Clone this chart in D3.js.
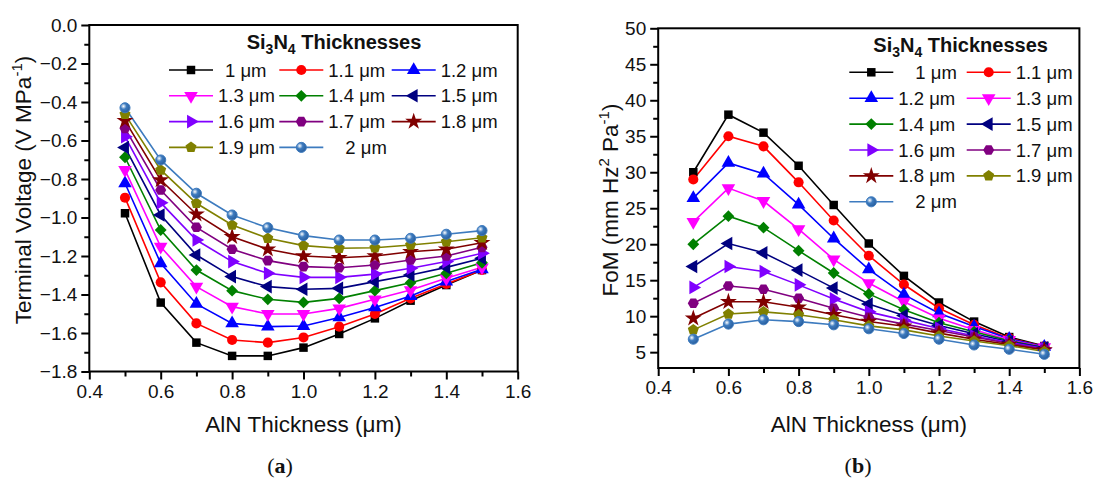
<!DOCTYPE html>
<html>
<head>
<meta charset="utf-8">
<script src="https://cdn.jsdelivr.net/npm/d3@7"></script>
<style>
  body { margin: 0; background: #fff; }
  svg { display: block; font-family: "Liberation Sans", Arial, sans-serif; }
  .tick text { font-size: 19px; fill: #111; }
  .tick line, .domain { stroke: #000; stroke-width: 2px; }
</style>
</head>
<body>
<div id="container"></div>
<script>
// AlN thickness on x, one series per Si3N4 thickness
const aln = [0.5, 0.6, 0.7, 0.8, 0.9, 1.0, 1.1, 1.2, 1.3, 1.4, 1.5];
const thickLabels = ["1 μm", "1.1 μm", "1.2 μm", "1.3 μm", "1.4 μm", "1.5 μm",
  "1.6 μm", "1.7 μm", "1.8 μm", "1.9 μm", "2 μm"];
const colors = ["#000000", "#ff0000", "#0000ff", "#ff00ff", "#008000", "#000080",
  "#8000ff", "#800080", "#800000", "#808000", "#3d7bbf"];

// (a) terminal voltage, V/MPa
const voltage = [
  [-0.978, -1.442, -1.650, -1.719, -1.719, -1.676, -1.605, -1.524, -1.432, -1.351, -1.273],
  [-0.897, -1.337, -1.550, -1.636, -1.650, -1.623, -1.567, -1.501, -1.420, -1.345, -1.273],
  [-0.822, -1.238, -1.449, -1.550, -1.567, -1.564, -1.519, -1.467, -1.408, -1.333, -1.269],
  [-0.753, -1.152, -1.359, -1.463, -1.501, -1.501, -1.472, -1.425, -1.377, -1.316, -1.259],
  [-0.687, -1.065, -1.273, -1.380, -1.425, -1.441, -1.420, -1.380, -1.339, -1.290, -1.235],
  [-0.636, -0.987, -1.195, -1.307, -1.359, -1.373, -1.368, -1.333, -1.299, -1.259, -1.212],
  [-0.580, -0.923, -1.117, -1.229, -1.290, -1.311, -1.311, -1.294, -1.264, -1.229, -1.186],
  [-0.537, -0.857, -1.051, -1.165, -1.224, -1.255, -1.261, -1.247, -1.221, -1.200, -1.155],
  [-0.497, -0.805, -0.983, -1.100, -1.165, -1.200, -1.209, -1.200, -1.178, -1.165, -1.131],
  [-0.464, -0.753, -0.926, -1.039, -1.108, -1.146, -1.160, -1.157, -1.143, -1.126, -1.105],
  [-0.430, -0.701, -0.874, -0.987, -1.053, -1.094, -1.117, -1.117, -1.108, -1.087, -1.068]
];

// (b) figure of merit
const fom = [
  [30.0, 38.0, 35.5, 30.9, 25.45, 20.1, 15.6, 11.9, 9.25, 7.1, 5.85],
  [29.0, 35.0, 33.6, 28.6, 23.3, 18.4, 14.4, 11.1, 8.8, 6.95, 5.8],
  [26.4, 31.3, 29.8, 25.5, 20.8, 16.5, 13.0, 10.4, 8.55, 6.85, 5.75],
  [23.1, 27.8, 26.0, 22.1, 17.9, 14.6, 12.0, 9.7, 8.1, 6.7, 5.7],
  [20.0, 23.9, 22.3, 19.1, 16.0, 13.1, 10.9, 9.1, 7.85, 6.6, 5.65],
  [16.9, 20.1, 18.8, 16.4, 13.9, 11.7, 10.1, 8.7, 7.55, 6.45, 5.6],
  [14.0, 16.9, 16.2, 14.35, 12.4, 10.6, 9.45, 8.3, 7.25, 6.35, 5.5],
  [11.8, 14.2, 13.75, 12.5, 11.1, 9.85, 8.9, 8.0, 7.1, 6.2, 5.4],
  [9.7, 12.0, 12.0, 11.25, 10.2, 9.25, 8.6, 7.65, 6.8, 6.05, 5.3],
  [8.1, 10.3, 10.6, 10.2, 9.5, 8.65, 8.1, 7.25, 6.55, 5.9, 5.1],
  [6.8, 8.9, 9.5, 9.25, 8.8, 8.25, 7.6, 6.8, 6.0, 5.4, 4.7]
];

const xTicks = [0.4, 0.6, 0.8, 1.0, 1.2, 1.4, 1.6];
const voltTicks = [0, -0.2, -0.4, -0.6, -0.8, -1.0, -1.2, -1.4, -1.6, -1.8];
const fomTicks = [5, 10, 15, 20, 25, 30, 35, 40, 45, 50];

// Origin-like symbols that d3 lacks
const polygon = (n, rot) => ({
  draw(ctx, size) {
    const r = Math.sqrt(2 * size / (n * Math.sin(2 * Math.PI / n)));
    for (let k = 0; k < n; k++) {
      const a = rot + k * 2 * Math.PI / n;
      if (k === 0) ctx.moveTo(r * Math.cos(a), r * Math.sin(a));
      else ctx.lineTo(r * Math.cos(a), r * Math.sin(a));
    }
    ctx.closePath();
  }
});
// square, circle, up, down, diamond, left, right, hexagon, star, pentagon, sphere
const symbols = [
  { type: d3.symbolSquare, size: 72, rot: 0 },
  { type: d3.symbolCircle, size: 80, rot: 0 },
  { type: d3.symbolTriangle, size: 80, rot: 0 },
  { type: d3.symbolTriangle, size: 80, rot: 180 },
  { type: d3.symbolSquare, size: 70, rot: 45 },
  { type: d3.symbolTriangle, size: 80, rot: -90 },
  { type: d3.symbolTriangle, size: 80, rot: 90 },
  { type: polygon(6, 0), size: 80, rot: 0 },
  { type: d3.symbolStar, size: 90, rot: 0 },
  { type: polygon(5, -Math.PI / 2), size: 80, rot: 0 },
  { type: d3.symbolCircle, size: 80, rot: 0, sphere: true }
];

const W = 1097, H = 480;
const svg = d3.select("#container").append("svg").attr("width", W).attr("height", H);

const grad = svg.append("defs").append("radialGradient")
  .attr("id", "sphere").attr("cx", "35%").attr("cy", "35%").attr("r", "65%");
grad.append("stop").attr("offset", "0%").attr("stop-color", "#ffffff");
grad.append("stop").attr("offset", "45%").attr("stop-color", "#3d7bbf");
grad.append("stop").attr("offset", "100%").attr("stop-color", "#2a5f9e");

function marker(g, i, x, y) {
  const s = symbols[i];
  g.append("path")
    .attr("d", d3.symbol().type(s.type).size(s.size)())
    .attr("transform", `translate(${x},${y}) rotate(${s.rot})`)
    .attr("fill", s.sphere ? "url(#sphere)" : colors[i])
    .attr("stroke", s.sphere ? colors[i] : "none")
    .attr("stroke-width", 1);
}

function drawPanel(p) {
  const g = svg.append("g");
  const x = d3.scaleLinear().domain([0.4, 1.6]).range([p.left, p.right]);
  const y = d3.scaleLinear().domain(p.yDomain).range([p.bottom, p.top]);

  // minor ticks first
  g.append("g").attr("transform", `translate(0,${p.bottom})`)
    .call(d3.axisBottom(x).tickValues(d3.range(0.5, 1.6, 0.2)).tickSize(5).tickFormat(""))
    .call(a => a.select(".domain").remove());
  g.append("g").attr("transform", `translate(${p.left},0)`)
    .call(d3.axisLeft(y).tickValues(p.yMinor).tickSize(5).tickFormat(""))
    .call(a => a.select(".domain").remove());

  g.append("g").attr("transform", `translate(0,${p.bottom})`)
    .call(d3.axisBottom(x).tickValues(xTicks).tickSize(8).tickPadding(5).tickFormat(d3.format(".1f")))
    .call(a => a.select(".domain").remove());
  g.append("g").attr("transform", `translate(${p.left},0)`)
    .call(d3.axisLeft(y).tickValues(p.yTicks).tickSize(8).tickPadding(4).tickFormat(p.yFormat))
    .call(a => a.select(".domain").remove());

  g.append("rect")
    .attr("x", p.left).attr("y", p.top)
    .attr("width", p.right - p.left).attr("height", p.bottom - p.top)
    .attr("fill", "none").attr("stroke", "#000").attr("stroke-width", 2);

  const line = d3.line().x((d, j) => x(aln[j])).y(d => y(d));
  p.data.forEach((row, i) => {
    g.append("path").datum(row).attr("d", line)
      .attr("fill", "none").attr("stroke", colors[i]).attr("stroke-width", 1.6);
  });
  p.data.forEach((row, i) => {
    row.forEach((v, j) => marker(g, i, x(aln[j]), y(v)));
  });

  // legend
  const title = g.append("text").attr("x", p.leg.titleX).attr("y", p.leg.titleY)
    .attr("font-size", 20).attr("font-weight", "bold").attr("fill", "#111");
  title.append("tspan").text("Si");
  title.append("tspan").attr("font-size", 14).attr("dy", 5).text("3");
  title.append("tspan").attr("dy", -5).text("N");
  title.append("tspan").attr("font-size", 14).attr("dy", 5).text("4");
  title.append("tspan").attr("dy", -5).text(" Thicknesses");

  thickLabels.forEach((lab, i) => {
    const cx = p.leg.colX[i % p.leg.cols];
    const cy = p.leg.rowY + Math.floor(i / p.leg.cols) * p.leg.rowStep;
    g.append("line").attr("x1", cx).attr("x2", cx + 44).attr("y1", cy).attr("y2", cy)
      .attr("stroke", colors[i]).attr("stroke-width", 1.6);
    marker(g, i, cx + 22, cy);
    const short = lab.length < 5;
    g.append("text").attr("x", cx + 49 + (short ? p.leg.shortDx(i) : 0)).attr("y", cy + 6.5)
      .attr("font-size", 18.5).attr("fill", "#111").text(lab);
  });

  // axis titles
  g.append("text").attr("x", (p.left + p.right) / 2).attr("y", 432)
    .attr("text-anchor", "middle").attr("font-size", 22.5).attr("fill", "#111")
    .text("AlN Thickness (μm)");
  const yt = g.append("text")
    .attr("transform", `translate(${p.yTitleX},${p.yTitleY}) rotate(-90)`)
    .attr("text-anchor", "middle").attr("font-size", 22.5).attr("fill", "#111");
  p.yTitle.forEach(part => {
    yt.append("tspan").attr("font-size", part.sup ? 15 : null)
      .attr("dy", part.sup ? -9 : part.after ? 9 : 0).text(part.t);
  });

  const pl = g.append("text").attr("x", p.tagX).attr("y", 473)
    .attr("text-anchor", "middle").attr("font-size", 22)
    .attr("font-family", "'Liberation Serif', 'DejaVu Serif', serif").attr("fill", "#111");
  pl.append("tspan").text("(");
  pl.append("tspan").attr("font-weight", "bold").text(p.tag);
  pl.append("tspan").text(")");
}

drawPanel({
  left: 89.3, right: 517.7, top: 25, bottom: 371.5,
  yDomain: [-1.8, 0], yTicks: voltTicks, yMinor: d3.range(-1.7, 0, 0.2),
  yFormat: d3.format(".1f"),
  data: voltage, tag: "a", tagX: 280,
  yTitleX: 31, yTitleY: 190,
  yTitle: [{ t: "Terminal Voltage (V MPa" }, { t: "-1", sup: true }, { t: ")", after: true }],
  leg: { titleX: 246.7, titleY: 48.5, cols: 3, colX: [169, 279.3, 391.7], rowY: 70, rowStep: 25.8,
    shortDx: i => (i === 0 ? 7 : 17) }
});

drawPanel({
  left: 658.2, right: 1079.4, top: 28.3, bottom: 368,
  yDomain: [2.8, 50], yTicks: fomTicks, yMinor: d3.range(7.5, 50, 5),
  yFormat: d3.format("d"),
  data: fom, tag: "b", tagX: 858,
  yTitleX: 618, yTitleY: 200,
  yTitle: [{ t: "FoM (mm Hz" }, { t: "2", sup: true }, { t: " Pa", after: true }, { t: "-1", sup: true }, { t: ")", after: true }],
  leg: { titleX: 873.3, titleY: 52, cols: 2, colX: [849.3, 966.7], rowY: 72.3, rowStep: 25.9,
    shortDx: () => 17 }
});
</script>
</body>
</html>
